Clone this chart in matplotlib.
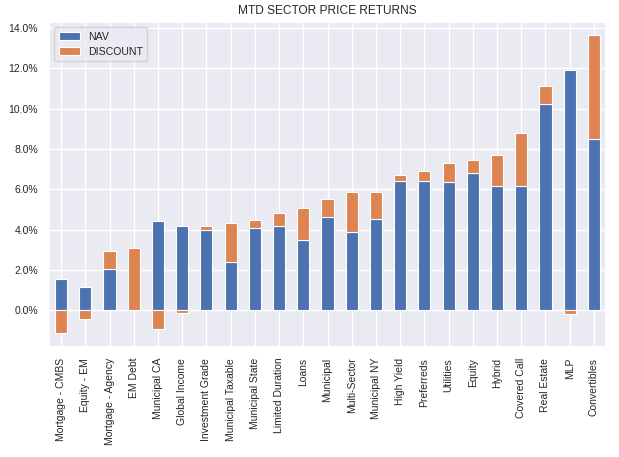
import numpy as np
import matplotlib
matplotlib.use("Agg")
import matplotlib.pyplot as plt
import seaborn as sns
from matplotlib.ticker import FuncFormatter

categories = ["Mortgage - CMBS", "Equity - EM", "Mortgage - Agency", "EM Debt",
              "Municipal CA", "Global Income", "Investment Grade", "Municipal Taxable",
              "Municipal State", "Limited Duration", "Loans", "Municipal", "Multi-Sector",
              "Municipal NY", "High Yield", "Preferreds", "Utilities", "Equity", "Hybrid",
              "Covered Call", "Real Estate", "MLP", "Convertibles"]
nav = [1.58, 1.18, 2.05, 0.0, 4.43, 4.18, 3.98, 2.38, 4.08, 4.18, 3.50, 4.63, 3.88,
       4.53, 6.43, 6.43, 6.38, 6.83, 6.18, 6.18, 10.23, 11.93, 8.48]
discount = [-1.10, -0.45, 0.88, 3.10, -0.90, -0.15, 0.20, 1.95, 0.40, 0.65, 1.58, 0.90,
            2.00, 1.35, 0.30, 0.50, 0.95, 0.65, 1.55, 2.60, 0.90, -0.18, 5.20]
yticks = [0, 2, 4, 6, 8, 10, 12, 14]

sns.set_theme(style="darkgrid")
plt.rcParams['font.family'] = ['Liberation Sans', 'DejaVu Sans']

fig = plt.figure(figsize=(6.19, 4.57), dpi=100)
ax = fig.add_axes([49 / 619, 1 - 346.7 / 457, (606 - 49) / 619, (346.7 - 22) / 457])

x = np.arange(len(categories))
nav_a = np.array(nav)
disc_a = np.array(discount)
pos_base = np.where(nav_a > 0, nav_a, 0)
neg_base = np.where(nav_a < 0, nav_a, 0)
disc_bottom = np.where(disc_a >= 0, pos_base, neg_base)

c1, c2 = "#4c72b0", "#dd8452"
ax.bar(x, nav_a, width=0.5, color=c1, edgecolor="white", linewidth=0.8, label="NAV", zorder=2)
ax.bar(x, disc_a, width=0.5, bottom=disc_bottom, color=c2, edgecolor="white",
       linewidth=0.8, label="DISCOUNT", zorder=2)

ax.set_xlim(-0.5, len(categories) - 0.5)
ax.set_ylim(-1.8, 14.3)
ax.set_yticks(yticks)
ax.yaxis.set_major_formatter(FuncFormatter(lambda v, p: f"{v:.1f}%"))
ax.set_xticks(x)
ax.set_xticklabels(categories, rotation=90)
ax.tick_params(axis='both', labelsize=7.5, length=0, pad=8)
ax.set_title("MTD SECTOR PRICE RETURNS", fontsize=8.6, pad=6)
ax.legend(loc="upper left", fontsize=7.6)

fig.savefig("out.png", dpi=100)
